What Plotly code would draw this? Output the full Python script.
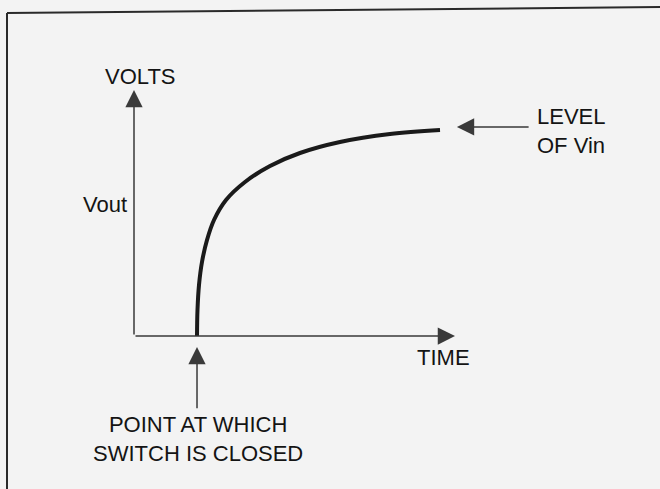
import plotly.graph_objects as go

# Charging curve of Vout after the switch closes (time and volts in arbitrary units)
time_pts = [1.963, 1.978, 2.025, 2.118, 2.274, 2.492, 2.866, 3.458, 4.237, 5.171, 6.417, 7.975, 9.533]
vout_pts = [0.000, 1.057, 2.073, 3.008, 3.902, 4.715, 5.528, 6.260, 6.911, 7.439, 7.886, 8.211, 8.374]

t_switch = 1.963       # moment the switch is closed
vin_level = 8.50       # level of Vin the output approaches
t_axis_end = 10.0      # end of the TIME axis
v_axis_end = 10.0      # end of the VOLTS axis

axis_labels = {"x": "TIME", "y": "VOLTS", "curve": "Vout"}
vin_label = "LEVEL<br>OF Vin"
switch_label = "POINT AT WHICH<br>SWITCH IS CLOSED"

W, H = 660, 489
FONT = dict(family="Liberation Sans, Arial, sans-serif", size=22, color="#141414")
INK = "#1a1a1a"
AXIS_INK = "#3a3a3a"

fig = go.Figure()

fig.add_trace(go.Scatter(
    x=time_pts, y=vout_pts, mode="lines",
    line=dict(color=INK, width=4, shape="spline", smoothing=1.0),
    hoverinfo="skip", showlegend=False,
))

def arrow(tip_x, tip_y, tail_x, tail_y, color=AXIS_INK):
    fig.add_annotation(
        x=tip_x, y=tip_y, ax=tail_x, ay=tail_y,
        xref="x", yref="y", axref="x", ayref="y",
        text="", showarrow=True, arrowhead=2, arrowsize=2.3,
        arrowwidth=1.5, arrowcolor=color, standoff=0,
    )

# axes drawn as arrows from the origin
arrow(0, v_axis_end, 0, 0)
arrow(t_axis_end, 0, 0, 0)
# pointer to the Vin level
arrow(t_axis_end + 0.06, vin_level, t_axis_end + 2.34, vin_level)
# pointer to the switching instant
arrow(t_switch, -0.45, t_switch, -3.0)

def label(x, y, text, xanchor="center"):
    fig.add_annotation(x=x, y=y, xref="x", yref="y", text=text, showarrow=False,
                       xanchor=xanchor, yanchor="middle", font=FONT,
                       align="center" if xanchor == "center" else "left")

label(0.19, 10.53, axis_labels["y"])
label(-0.90, 5.33, axis_labels["curve"])
label(9.63, -0.89, axis_labels["x"])
label(t_axis_end + 2.49, vin_level - 0.17, vin_label, xanchor="left")
label(t_switch + 0.03, -4.19, switch_label)

# page frame lines along the top and left edges
fig.add_shape(type="line", xref="paper", yref="paper",
              x0=7 / W, y0=1 - 13 / H, x1=1, y1=1 - 7 / H,
              line=dict(color="#2a2a2a", width=2))
fig.add_shape(type="line", xref="paper", yref="paper",
              x0=7 / W, y0=1 - 13 / H, x1=7 / W, y1=0,
              line=dict(color="#2a2a2a", width=2))

px_per_t = 32.1
px_per_v = 24.6
x0_px, y0_px = 134, 336
fig.update_layout(
    width=W, height=H,
    margin=dict(l=0, r=0, t=0, b=0),
    paper_bgcolor="#f3f3f3", plot_bgcolor="#f3f3f3",
    xaxis=dict(range=[-x0_px / px_per_t, (W - x0_px) / px_per_t], visible=False, fixedrange=True),
    yaxis=dict(range=[(y0_px - H) / px_per_v, y0_px / px_per_v], visible=False, fixedrange=True),
    showlegend=False,
)

fig.write_html("out.html")
